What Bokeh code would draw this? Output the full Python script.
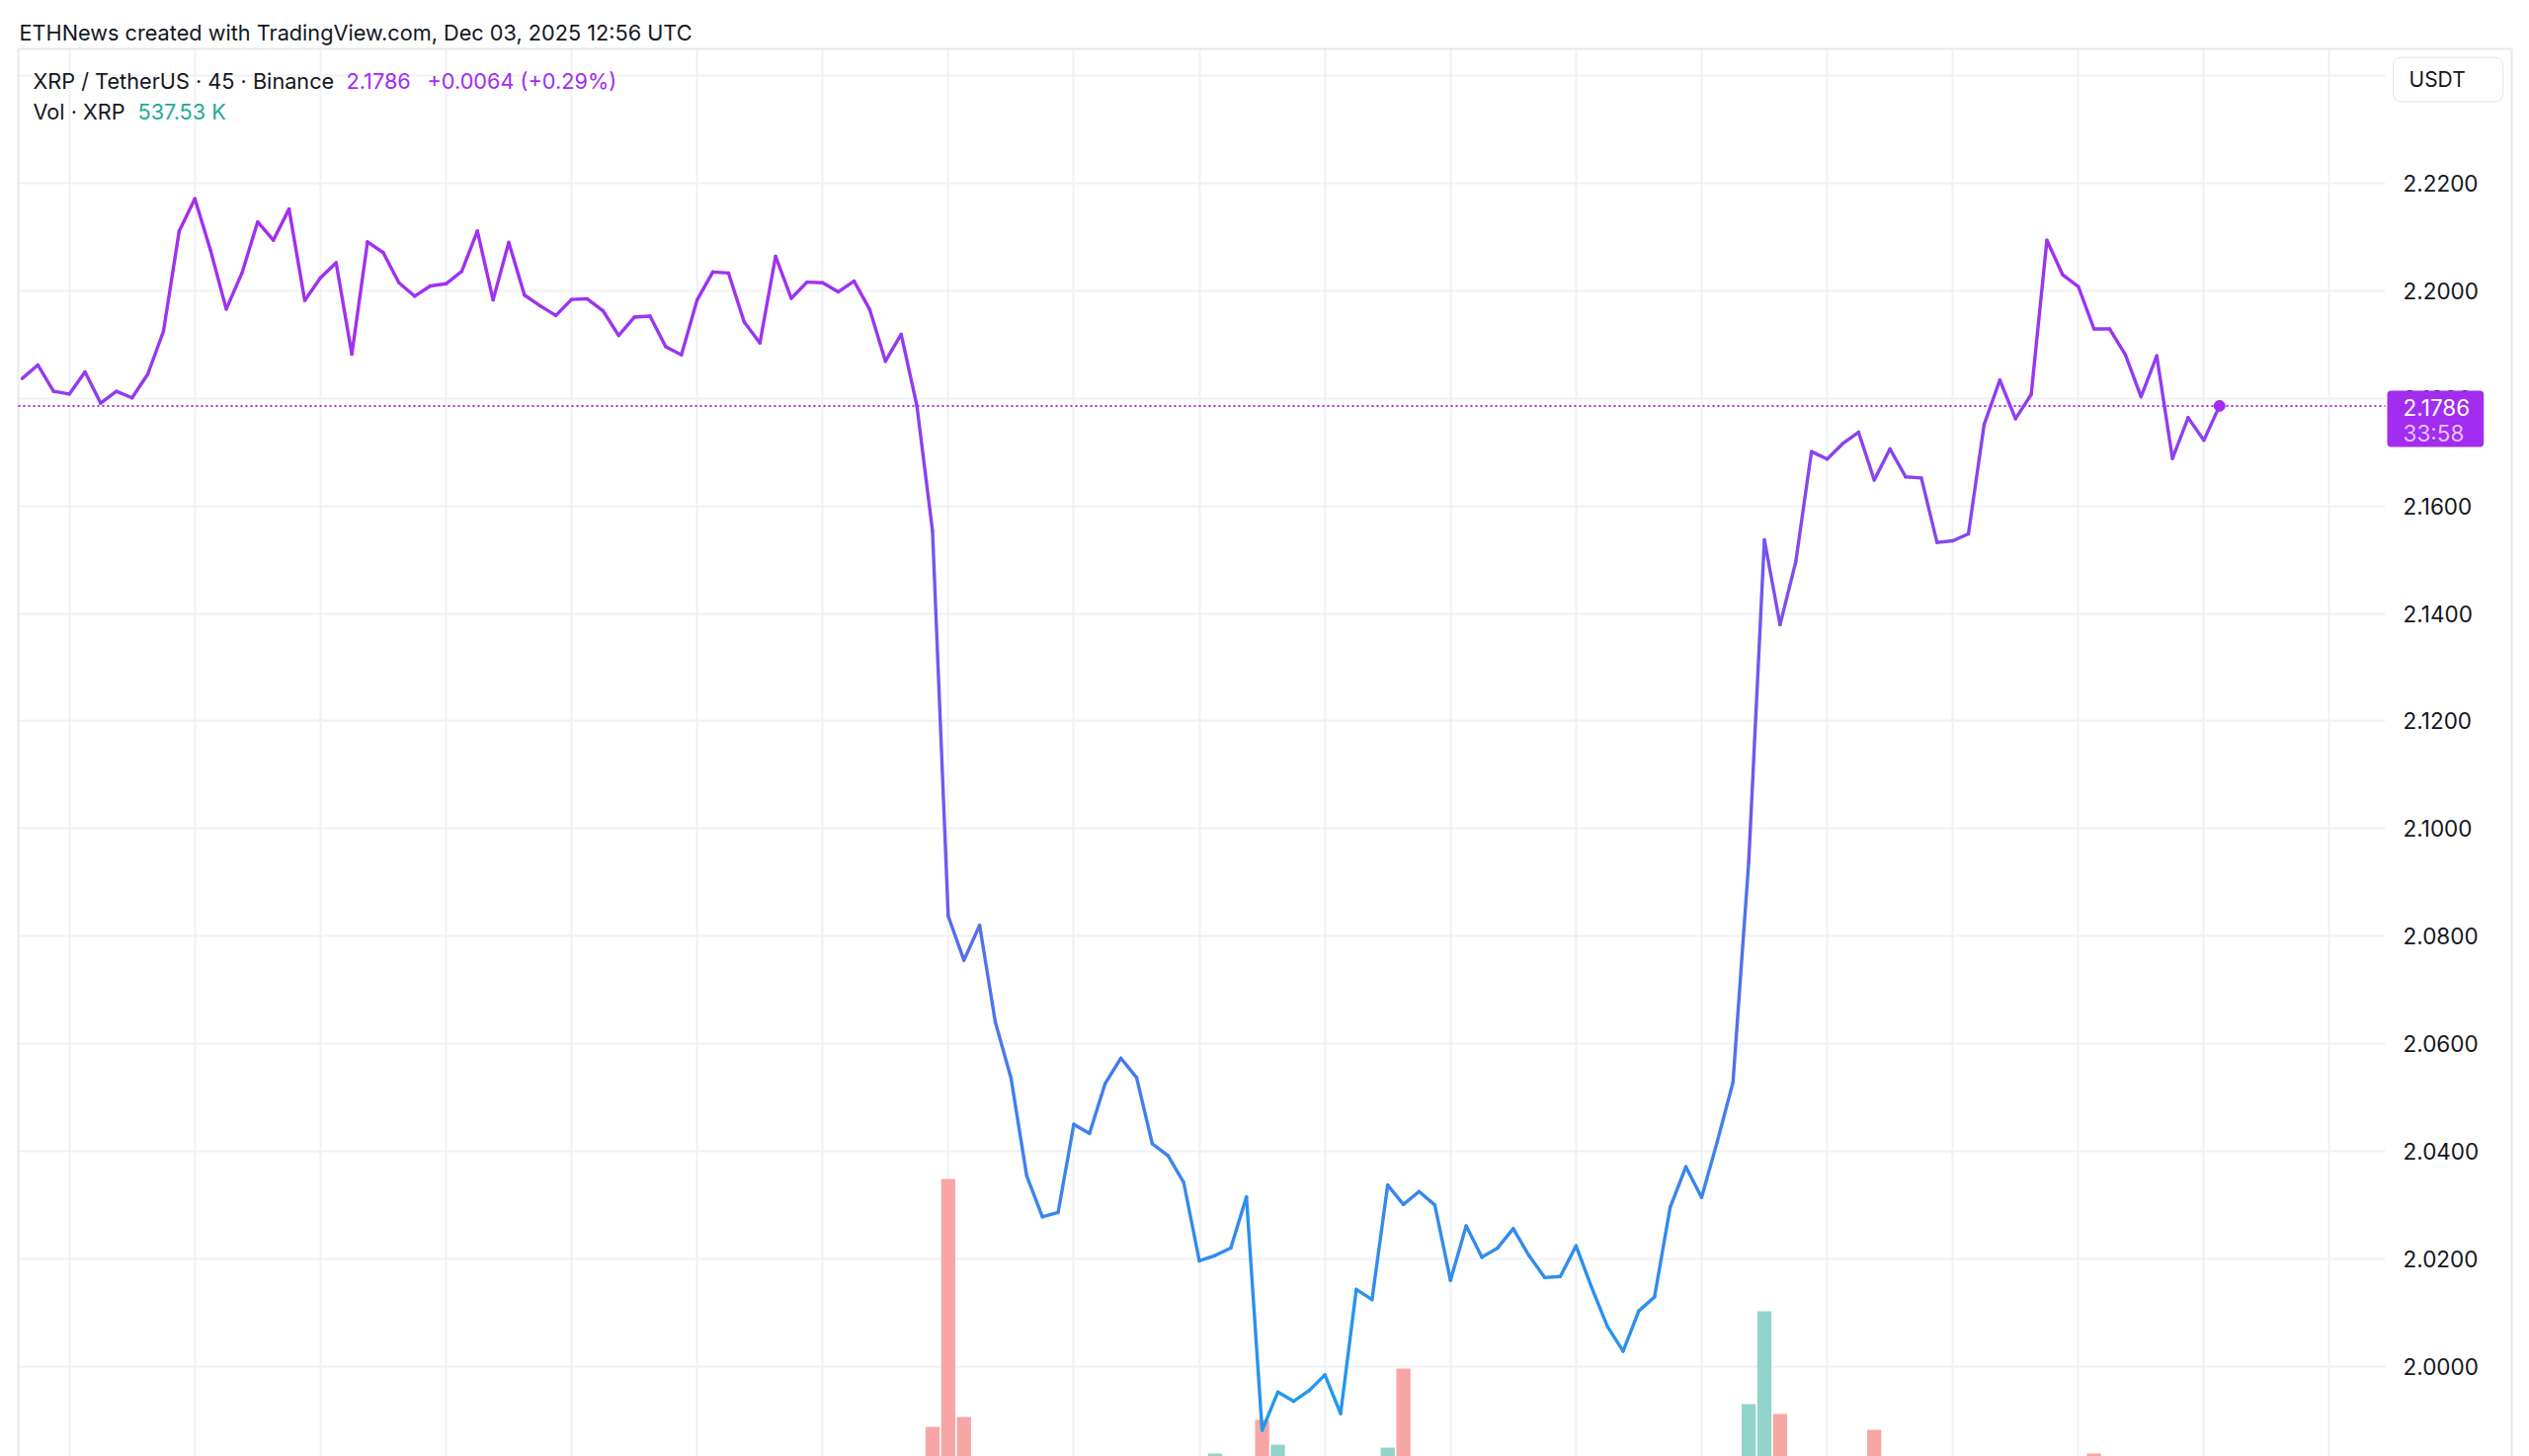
from bokeh.plotting import figure
from bokeh.models import (Range1d, FixedTicker, PrintfTickFormatter, Grid, Label,
                          ColumnDataSource)
from bokeh.embed import file_html
from bokeh.resources import INLINE

# ---------------- data ----------------
prices = [
    2.1837, 2.1862, 2.1813, 2.1808, 2.1849, 2.1791, 2.1813, 2.1801, 2.1845, 2.1925,
    2.2111, 2.2171, 2.2075, 2.1966, 2.2033, 2.2128, 2.2094, 2.2152, 2.1982, 2.2024,
    2.2052, 2.1882, 2.2091, 2.2071, 2.2015, 2.1990, 2.2009, 2.2013, 2.2036, 2.2111,
    2.1983, 2.2090, 2.1992, 2.1972, 2.1954, 2.1984, 2.1985, 2.1963, 2.1917, 2.1951,
    2.1953, 2.1896, 2.1881, 2.1983, 2.2035, 2.2033, 2.1942, 2.1903, 2.2064, 2.1986,
    2.2016, 2.2015, 2.1998, 2.2018, 2.1965, 2.1869, 2.1919, 2.1787, 2.1553, 2.0837,
    2.0755, 2.0820, 2.0640, 2.0536, 2.0354, 2.0278, 2.0286, 2.0450, 2.0433, 2.0526,
    2.0573, 2.0537, 2.0414, 2.0392, 2.0342, 2.0196, 2.0206, 2.0220, 2.0315, 1.9881,
    1.9952, 1.9935, 1.9955, 1.9984, 1.9912, 2.0143, 2.0124, 2.0337, 2.0301, 2.0325,
    2.0300, 2.0160, 2.0261, 2.0203, 2.0220, 2.0256, 2.0206, 2.0165, 2.0167, 2.0224,
    2.0146, 2.0074, 2.0028, 2.0103, 2.0129, 2.0296, 2.0371, 2.0314, 2.0418, 2.0528,
    2.0937, 2.1537, 2.1379, 2.1496, 2.1701, 2.1687, 2.1716, 2.1737, 2.1648, 2.1706,
    2.1654, 2.1652, 2.1532, 2.1535, 2.1548, 2.1751, 2.1834, 2.1762, 2.1807, 2.2094,
    2.2030, 2.2008, 2.1929, 2.1929, 2.1881, 2.1803, 2.1879, 2.1688, 2.1764, 2.1722,
    2.1786,
]
# volume (thousand XRP) of the bars tall enough to show above the bottom edge
vol_index = [58, 59, 60, 76, 79, 80, 87, 88, 110, 111, 112, 118, 132]
vol_values = [2240, 4248, 2320, 2024, 2296, 2096, 2072, 2712, 2424, 3176, 2344, 2216, 2024]

price_ticks = [2.00, 2.02, 2.04, 2.06, 2.08, 2.10, 2.12, 2.14, 2.16, 2.18, 2.20, 2.22]
grid_prices = price_ticks + [2.24]
time_grid_bars = [3, 11, 19, 27, 35, 43, 51, 59, 67, 75, 83, 91, 99, 107, 115, 123, 131, 139, 147]

header_text = "ETHNews created with TradingView.com, Dec 03, 2025 12:56 UTC"
symbol_text = "XRP / TetherUS · 45 · Binance"
last_price_text = "2.1786"
change_text = "+0.0064 (+0.29%)"
vol_label_text = "Vol · XRP"
vol_value_text = "537.53 K"
countdown_text = "33:58"
currency_text = "USDT"

# ---------------- geometry / styling ----------------
FONT = "Inter"
TXT = "#131722"
PURPLE = "#a22cf0"
TEAL = "#22ab94"
GRID = "#f0f1f5"
BORDER = "#e6e8ee"
TOP_RGB = (168, 42, 240)
BOT_RGB = (30, 156, 236)
UP = "#92d4ca"
DOWN = "#f7a6a5"

W, H = 2560, 1474
X0, DX = 22.0, 15.8875          # pixel of bar 0, pixels per bar
Y_REF, P_REF, PPU = 185.0, 2.22, 5444.0   # pixel of 2.22, pixels per price unit

def bx(px):   # pixel -> bar coordinate
    return (px - X0) / DX
def py(px):   # pixel -> price coordinate
    return P_REF - (px - Y_REF) / PPU

PANE_L, PANE_T, PANE_R, AXIS_R = 18, 49, 2414, 2542

p = figure(width=W, height=H, output_backend="svg", toolbar_location=None,
           x_range=Range1d(bx(0), bx(W)), y_range=Range1d(py(H), py(0)),
           x_axis_location=None, y_axis_location="right",
           min_border_left=0, min_border_top=0, min_border_right=0, min_border_bottom=0,
           background_fill_color="white", border_fill_color="white")
p.outline_line_color = None
for g in p.grid:
    g.visible = False

p.add_layout(Grid(dimension=0, ticker=FixedTicker(ticks=time_grid_bars),
                  grid_line_color=GRID, grid_line_width=2))
p.add_layout(Grid(dimension=1, ticker=FixedTicker(ticks=grid_prices),
                  grid_line_color=GRID, grid_line_width=2))

# white areas outside the price pane (header strip, left strip, price-scale strip)
p.quad(left=[bx(0), bx(0), bx(PANE_R)], right=[bx(W), bx(PANE_L), bx(W)],
       bottom=[py(PANE_T), py(H), py(H)], top=[py(0), py(PANE_T), py(PANE_T)],
       fill_color="white", line_color=None)
# pane borders
p.segment(x0=[bx(PANE_L), bx(PANE_L), bx(AXIS_R)], x1=[bx(AXIS_R), bx(PANE_L), bx(AXIS_R)],
          y0=[py(PANE_T), py(PANE_T), py(PANE_T)], y1=[py(PANE_T), py(H), py(H)],
          line_color=BORDER, line_width=2)

ax = p.yaxis[0]
ax.fixed_location = bx(PANE_R)
ax.ticker = FixedTicker(ticks=price_ticks)
ax.formatter = PrintfTickFormatter(format="%.4f")
ax.axis_line_color = None
ax.major_tick_line_color = None
ax.minor_tick_line_color = None
ax.major_tick_out = 0
ax.major_tick_in = 0
ax.major_label_standoff = 18
ax.major_label_text_font = FONT
ax.major_label_text_font_size = "22.5px"
ax.major_label_text_color = TXT

# ---------------- volume ----------------
p.extra_y_ranges = {"vol": Range1d(2000, 2000 + 8 * H)}
vol_colors = [UP if prices[i] >= prices[i - 1] else DOWN for i in vol_index]
p.vbar(x=vol_index, top=vol_values, bottom=0, width=0.9, y_range_name="vol",
       fill_color=vol_colors, line_color=None)

# ---------------- price line (vertical gradient) ----------------
pmin, pmax = min(prices), max(prices)
def grad(v):
    t = max(0.0, min(1.0, (v - pmin) / (pmax - pmin)))
    r, g, b = (round(BOT_RGB[k] + (TOP_RGB[k] - BOT_RGB[k]) * t) for k in range(3))
    return "#%02x%02x%02x" % (r, g, b)

idx = list(range(len(prices)))
seg = ColumnDataSource(dict(
    x0=idx[:-1], x1=idx[1:], y0=prices[:-1], y1=prices[1:],
    c=[grad((a + b) / 2) for a, b in zip(prices[:-1], prices[1:])]))
p.segment(x0="x0", y0="y0", x1="x1", y1="y1", source=seg, line_color="c",
          line_width=3.4, line_cap="round")

# last-price dotted line and marker
p.segment(x0=[bx(PANE_L)], x1=[bx(PANE_R)], y0=[prices[-1]], y1=[prices[-1]],
          line_color=PURPLE, line_width=2, line_dash="2 3")
p.scatter(x=[idx[-1]], y=[prices[-1]], size=11, color=PURPLE)

# ---------------- texts ----------------
def lab(X, Y, text, color=TXT, size="21.7px", align="left", baseline="middle", **kw):
    l = Label(x=X, y=H - Y, x_units="screen", y_units="screen", text=text,
              text_font=FONT, text_font_size=size, text_color=color,
              text_align=align, text_baseline=baseline, **kw)
    p.add_layout(l)
    return l

lab(19, 32, header_text)
lab(33, 81.5, symbol_text)
lab(350, 81.5, last_price_text, color=PURPLE)
lab(432, 81.5, change_text, color=PURPLE)
lab(33, 112, vol_label_text)
lab(139, 112, vol_value_text, color=TEAL)

# currency button (box anchored on its left/middle)
lab(2422, 80, currency_text, size="21px",
    background_fill_color="white", border_line_color="#e0e3eb", border_line_width=1,
    padding=dict(left=16, right=38, top=10, bottom=10), border_radius=8)

# price-scale label of the last price (box anchored on its left/middle)
lab(2416, 423.5, last_price_text, color="white", size="22.5px",
    background_fill_color=PURPLE,
    padding=dict(left=16, right=14, top=8, bottom=32), border_radius=4)
lab(2432, 438, countdown_text, color="white", size="22.5px", text_alpha=0.72)

open("out.html", "w").write(file_html(p, INLINE))
